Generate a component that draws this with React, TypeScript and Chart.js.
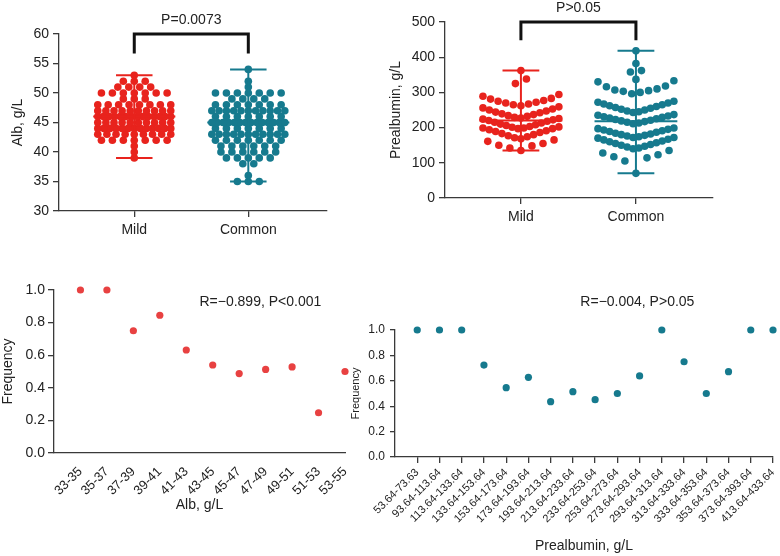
import React, { useEffect, useRef } from "react";
import { Chart, registerables } from "chart.js";
Chart.register(...registerables);

const FONT = "'Liberation Sans', Arial, Helvetica, sans-serif";
Chart.defaults.font.family = FONT;
Chart.defaults.color = "#222";

const RED = "#e8231d";
const RED2 = "#e84141";
const TEAL = "#167a8e";
const AXIS = "#3a3a3a";
const TEXT = "#222";

// ---------- Data ----------
const GROUPS = ["Mild", "Common"];

// Albumin (g/L): value levels and number of patients at each level
const ALB_LEVELS = [35, 36, 37, 38, 39, 40, 41, 42, 43, 44, 45, 46, 47, 48, 49, 50, 51, 52, 53, 54];
const ALB_MILD_COUNTS = [0, 0, 0, 0, 1, 1, 1, 7, 9, 13, 10, 14, 10, 8, 3, 7, 4, 3, 1, 0];
const ALB_COMMON_COUNTS = [3, 1, 0, 2, 5, 6, 6, 7, 11, 7, 14, 7, 11, 7, 4, 7, 1, 1, 0, 1];

// Prealbumin values, grouped in the rows of the dot plot
const PRE_MILD_ROWS = [
  [362],
  [325, 338],
  [262, 265, 267, 270, 272, 275, 277, 281, 283, 289, 294],
  [227, 229, 232, 234, 237, 239, 242, 244, 247, 250, 253, 256, 259],
  [197, 199, 201, 203, 206, 208, 210, 213, 215, 218, 220, 222, 224, 226],
  [168, 171, 174, 177, 180, 183, 186, 189, 191, 194, 197, 199, 202],
  [135, 142, 148, 150, 155, 161, 165],
];
const PRE_COMMON_ROWS = [
  [418],
  [382],
  [358, 362],
  [337],
  [296, 300, 303, 305, 307, 310, 316, 318, 330, 333],
  [243, 245, 247, 250, 252, 255, 257, 260, 262, 265, 267, 270, 272, 275],
  [211, 213, 215, 217, 219, 221, 223, 225, 227, 229, 231, 233, 235, 237],
  [172, 174, 176, 178, 180, 182, 184, 187, 189, 191, 193, 195, 197, 199],
  [140, 142, 145, 147, 150, 152, 155, 157, 160, 162, 165, 167, 170, 172],
  [70, 105, 114, 117, 123, 128, 135],
];

// Frequency by bins
const ALB_BINS = ["33-35", "35-37", "37-39", "39-41", "41-43", "43-45", "45-47", "47-49", "49-51", "51-53", "53-55"];
const ALB_FREQ = [1.0, 1.0, 0.75, 0.845, 0.632, 0.54, 0.487, 0.513, 0.528, 0.247, 0.5];

const PRE_BINS = [
  "53.64-73.63", "93.64-113.64", "113.64-133.64", "133.64-153.64", "153.64-173.64",
  "173.64-193.64", "193.64-213.64", "213.64-233.64", "233.64-253.64", "253.64-273.64",
  "273.64-293.64", "293.64-313.64", "313.64-333.64", "333.64-353.64", "353.64-373.64",
  "373.64-393.64", "413.64-433.64",
];
const PRE_FREQ = [1.0, 1.0, 1.0, 0.724, 0.546, 0.627, 0.436, 0.514, 0.451, 0.5, 0.638, 1.0, 0.75, 0.5, 0.672, 1.0, 1.0];

// ---------- helpers ----------
function rowsFromCounts(levels: number[], counts: number[]): number[][] {
  const rows: number[][] = [];
  levels.forEach((v, i) => {
    if (counts[i] > 0) rows.push(new Array(counts[i]).fill(v));
  });
  return rows;
}

function swarm(rows: number[][], center: number, step: number, maxHalf: number) {
  const pts: { x: number; y: number }[] = [];
  rows.forEach((row) => {
    const vals = [...row].sort((a, b) => a - b);
    const n = vals.length;
    const s = n > 1 ? Math.min(step, (2 * maxHalf) / (n - 1)) : 0;
    const offs = vals.map((_, i) => (i - (n - 1) / 2) * s);
    offs.sort((a, b) => Math.abs(a) - Math.abs(b) || a - b);
    vals.forEach((v, i) => pts.push({ x: center + offs[i], y: v }));
  });
  return pts;
}

function stats(rows: number[][]) {
  const all = rows.flat().sort((a, b) => a - b);
  const n = all.length;
  const med = n % 2 ? all[(n - 1) / 2] : (all[n / 2 - 1] + all[n / 2]) / 2;
  return { min: all[0], max: all[n - 1], med };
}

function fixY(width: number) {
  return (s: any) => {
    s.width = width;
    s.paddingTop = 0;
    s.paddingBottom = 0;
  };
}
function fixX(height: number) {
  return (s: any) => {
    s.height = height;
    s.paddingLeft = 0;
    s.paddingRight = 0;
  };
}

type TextItem = { text: string; x: number; y: number; dy?: number; size: number; baseline?: CanvasTextBaseline };
function textPlugin(items: TextItem[]) {
  return {
    id: "texts",
    afterDraw(chart: any) {
      const ctx = chart.ctx;
      const xs = chart.scales.x;
      const ys = chart.scales.y;
      ctx.save();
      items.forEach((it) => {
        ctx.font = `${it.size}px ${FONT}`;
        ctx.fillStyle = TEXT;
        ctx.textAlign = "center";
        ctx.textBaseline = it.baseline || "middle";
        ctx.fillText(it.text, xs.getPixelForValue(it.x), ys.getPixelForValue(it.y) + (it.dy || 0));
      });
      ctx.restore();
    },
  };
}

const gridOpts = (len: number) => ({
  display: true,
  drawOnChartArea: false,
  drawTicks: true,
  tickLength: len,
  color: AXIS,
  lineWidth: 1.3,
});
const borderOpts = { display: true, color: AXIS, width: 1.3 };

type Box = { left: number; top: number; width: number; height: number };

// ---------- Group dot plot (top) ----------
function groupConfig(p: {
  rows: number[][][];
  colors: string[];
  yMin: number;
  yMax: number;
  yStep: number;
  yTitle: string;
  titlePad: number;
  pText: string;
  bracketLow: number;
  xMin: number;
  xMax: number;
  pad: { top: number; right: number };
  yWidth: number;
  xHeight: number;
  step: number;
  maxHalf: number;
}) {
  const datasets: any[] = [];
  p.rows.forEach((rows, g) => {
    const st = stats(rows);
    const line = (data: any[]) => ({
      data,
      showLine: true,
      borderColor: p.colors[g],
      borderWidth: 2,
      pointRadius: 0,
      clip: false,
    });
    datasets.push(line([{ x: g, y: st.min }, { x: g, y: st.max }]));
    datasets.push(line([{ x: g - 0.16, y: st.max }, { x: g + 0.16, y: st.max }]));
    datasets.push(line([{ x: g - 0.16, y: st.min }, { x: g + 0.16, y: st.min }]));
    datasets.push(line([{ x: g - 0.36, y: st.med }, { x: g + 0.36, y: st.med }]));
    datasets.push({
      data: swarm(rows, g, p.step, p.maxHalf),
      backgroundColor: p.colors[g],
      borderWidth: 0,
      pointRadius: 3.8,
      clip: false,
    });
  });
  datasets.push({
    data: [
      { x: 0, y: p.bracketLow },
      { x: 0, y: p.yMax },
      { x: 1, y: p.yMax },
      { x: 1, y: p.bracketLow },
    ],
    showLine: true,
    borderColor: "#111",
    borderWidth: 3,
    borderJoinStyle: "miter",
    pointRadius: 0,
    clip: false,
  });
  return {
    type: "scatter",
    data: { datasets },
    options: {
      responsive: false,
      animation: false,
      events: [],
      layout: { padding: { left: 0, top: p.pad.top, right: p.pad.right, bottom: 0 } },
      plugins: { legend: { display: false }, tooltip: { enabled: false } },
      scales: {
        x: {
          type: "linear",
          min: p.xMin,
          max: p.xMax,
          afterBuildTicks: (s: any) => {
            s.ticks = GROUPS.map((_, i) => ({ value: i }));
          },
          ticks: {
            callback: (v: number) => GROUPS[v],
            font: { size: 14 },
            color: TEXT,
            padding: 5,
            maxRotation: 0,
            autoSkip: false,
          },
          grid: gridOpts(6),
          border: borderOpts,
          afterFit: fixX(p.xHeight),
        },
        y: {
          min: p.yMin,
          max: p.yMax,
          ticks: { stepSize: p.yStep, font: { size: 14 }, color: TEXT, padding: 4 },
          grid: gridOpts(6),
          border: borderOpts,
          title: { display: true, text: p.yTitle, font: { size: 14 }, color: TEXT, padding: { top: p.titlePad } },
          afterFit: fixY(p.yWidth),
        },
      },
    },
    plugins: [textPlugin([{ text: p.pText, x: 0.5, y: p.yMax, dy: -7, size: 14, baseline: "bottom" }])],
  };
}

// ---------- Frequency plot (bottom) ----------
function freqConfig(p: {
  bins: string[];
  freq: number[];
  color: string;
  xTitle: string;
  xTitlePad: number;
  yTitlePad: number;
  yTitleSize: number;
  yTickSize: number;
  xTickSize: number;
  xTicks: boolean;
  yTickLen: number;
  yTickPad: number;
  pad: { top: number; right: number };
  yWidth: number;
  xHeight: number;
  note: string;
  noteX: number;
  noteY: number;
}) {
  return {
    type: "scatter",
    data: {
      datasets: [
        {
          data: p.bins.map((_, i) => ({ x: i, y: p.freq[i] })),
          backgroundColor: p.color,
          borderWidth: 0,
          pointRadius: 3.6,
          clip: false,
        },
      ],
    },
    options: {
      responsive: false,
      animation: false,
      events: [],
      layout: { padding: { left: 0, top: p.pad.top, right: p.pad.right, bottom: 0 } },
      plugins: { legend: { display: false }, tooltip: { enabled: false } },
      scales: {
        x: {
          type: "linear",
          min: -1,
          max: p.bins.length - 1,
          afterBuildTicks: (s: any) => {
            s.ticks = p.bins.map((_, i) => ({ value: i }));
          },
          ticks: {
            callback: (v: number) => p.bins[v],
            font: { size: p.xTickSize },
            color: TEXT,
            padding: 3,
            minRotation: 45,
            maxRotation: 45,
            autoSkip: false,
          },
          grid: p.xTicks ? gridOpts(6) : { display: false },
          border: borderOpts,
          title: { display: true, text: p.xTitle, font: { size: 14 }, color: TEXT, padding: { bottom: p.xTitlePad } },
          afterFit: fixX(p.xHeight),
        },
        y: {
          min: 0,
          max: 1,
          ticks: {
            stepSize: 0.2,
            callback: (v: number) => v.toFixed(1),
            font: { size: p.yTickSize },
            color: TEXT,
            padding: p.yTickPad,
          },
          grid: gridOpts(p.yTickLen),
          border: borderOpts,
          title: {
            display: true,
            text: "Frequency",
            font: { size: p.yTitleSize },
            color: TEXT,
            padding: { top: p.yTitlePad },
          },
          afterFit: fixY(p.yWidth),
        },
      },
    },
    plugins: [textPlugin([{ text: p.note, x: p.noteX, y: p.noteY, size: 14 }])],
  };
}

function ChartPanel({ box, make }: { box: Box; make: () => any }) {
  const ref = useRef<HTMLCanvasElement>(null);
  useEffect(() => {
    const chart = new Chart(ref.current as HTMLCanvasElement, make());
    return () => chart.destroy();
  }, []);
  return (
    <canvas
      ref={ref}
      width={box.width}
      height={box.height}
      style={{ position: "absolute", left: box.left, top: box.top, width: box.width, height: box.height }}
    />
  );
}

export default function App() {
  const albRows = [rowsFromCounts(ALB_LEVELS, ALB_MILD_COUNTS), rowsFromCounts(ALB_LEVELS, ALB_COMMON_COUNTS)];
  const preRows = [PRE_MILD_ROWS, PRE_COMMON_ROWS];
  return (
    <div style={{ position: "fixed", left: 0, top: 0, width: 780, height: 556, background: "#fff", overflow: "hidden" }}>
      <ChartPanel
        box={{ left: 0, top: 0, width: 390, height: 260 }}
        make={() =>
          groupConfig({
            rows: albRows,
            colors: [RED, TEAL],
            yMin: 30,
            yMax: 60,
            yStep: 5,
            yTitle: "Alb, g/L",
            titlePad: 10,
            pText: "P=0.0073",
            bracketLow: 56.7,
            xMin: -0.66,
            xMax: 1.69,
            pad: { top: 34, right: 63 },
            yWidth: 59,
            xHeight: 49,
            step: 0.096,
            maxHalf: 0.32,
          })
        }
      />
      <ChartPanel
        box={{ left: 370, top: 0, width: 410, height: 260 }}
        make={() =>
          groupConfig({
            rows: preRows,
            colors: [RED, TEAL],
            yMin: 0,
            yMax: 500,
            yStep: 100,
            yTitle: "Prealbumin, g/L",
            titlePad: 17.6,
            pText: "P>0.05",
            bracketLow: 448,
            xMin: -0.66,
            xMax: 1.67,
            pad: { top: 22, right: 67 },
            yWidth: 75,
            xHeight: 62,
            step: 0.096,
            maxHalf: 0.33,
          })
        }
      />
      <ChartPanel
        box={{ left: 0, top: 260, width: 390, height: 296 }}
        make={() =>
          freqConfig({
            bins: ALB_BINS,
            freq: ALB_FREQ,
            color: RED2,
            xTitle: "Alb, g/L",
            xTitlePad: 42.6,
            yTitlePad: 0,
            yTitleSize: 14,
            yTickSize: 14,
            xTickSize: 13,
            xTicks: false,
            yTickLen: 6,
            yTickPad: 3,
            pad: { top: 30, right: 45 },
            yWidth: 54,
            xHeight: 103,
            note: "R=\u22120.899, P<0.001",
            noteX: 6.8,
            noteY: 0.926,
          })
        }
      />
      <ChartPanel
        box={{ left: 340, top: 260, width: 440, height: 296 }}
        make={() =>
          freqConfig({
            bins: PRE_BINS,
            freq: PRE_FREQ,
            color: TEAL,
            xTitle: "Prealbumin, g/L",
            xTitlePad: 1.6,
            yTitlePad: 9.4,
            yTitleSize: 11,
            yTickSize: 12,
            xTickSize: 11,
            xTicks: true,
            yTickLen: 5,
            yTickPad: 5,
            pad: { top: 70, right: 7 },
            yWidth: 55,
            xHeight: 99,
            note: "R=\u22120.004, P>0.05",
            noteX: 9.9,
            noteY: 1.22,
          })
        }
      />
    </div>
  );
}
